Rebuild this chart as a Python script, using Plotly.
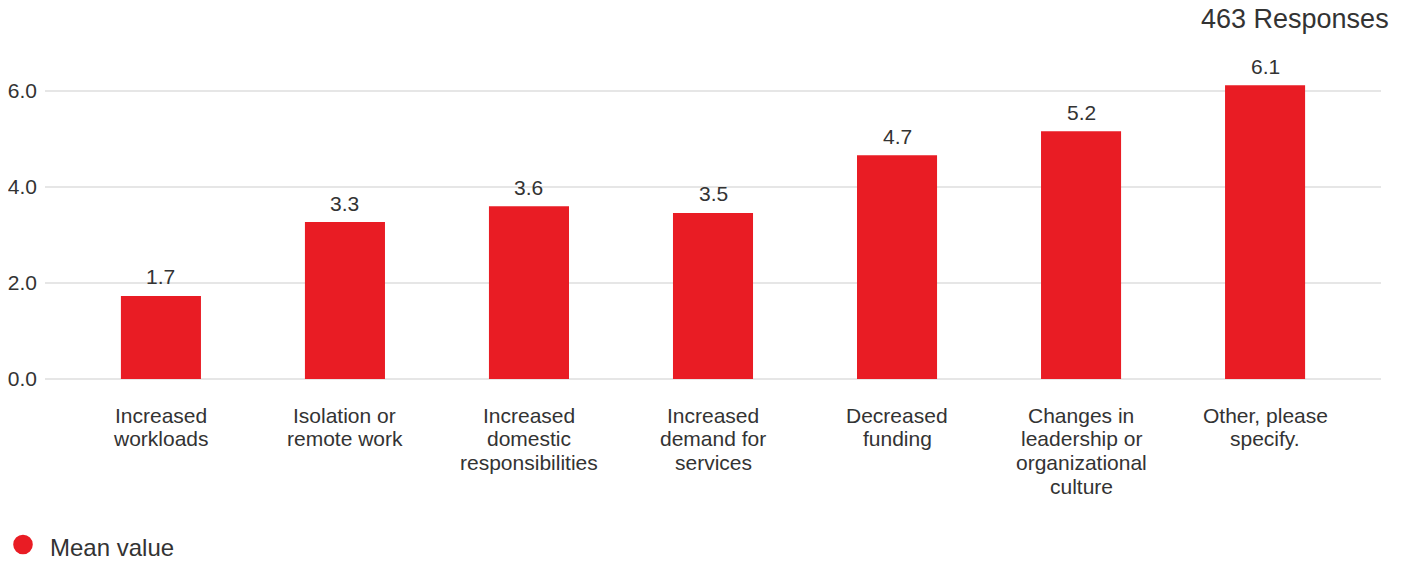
import plotly.graph_objects as go

categories = [
    "Increased<br>workloads",
    "Isolation or<br>remote work",
    "Increased<br>domestic<br>responsibilities",
    "Increased<br>demand for<br>services",
    "Decreased<br>funding",
    "Changes in<br>leadership or<br>organizational<br>culture",
    "Other, please<br>specify.",
]
mean_values = [1.73, 3.27, 3.60, 3.46, 4.66, 5.16, 6.12]
y_ticks = [0, 2, 4, 6]
responses_label = "463 Responses"
series_name = "Mean value"

RED = "#E91C24"
TEXT = "#333333"
FONT = "Liberation Sans, Arial, sans-serif"

# page body adds an 8px offset; layout below is in figure coordinates
OFF = 8
W, H = 1408, 561
ML = 45 - OFF
PLOT_R = 1381 - OFF
ZERO_Y = 379 - OFF
MT = 77 - OFF
MR = W - PLOT_R
MB = H - ZERO_Y
PW, PH = W - ML - MR, H - MT - MB
PX_PER_UNIT = 48

xs = list(range(len(categories)))

fig = go.Figure()
fig.add_trace(go.Bar(
    x=xs,
    y=mean_values,
    width=0.435,
    name=series_name,
    marker=dict(color=RED, line=dict(width=0)),
    showlegend=False,
    hoverinfo="skip",
))

for xi, v in zip(xs, mean_values):
    fig.add_annotation(
        x=xi, y=v, xref="x", yref="y", text=f"{v:.1f}",
        showarrow=False, yanchor="middle", yshift=19,
        font=dict(size=21, color=TEXT, family=FONT),
    )

# category labels, one annotation per line for tight line spacing
for xi, label in zip(xs, categories):
    for j, line in enumerate(label.split("<br>")):
        fig.add_annotation(
            x=xi, y=0, xref="x", yref="y", text=line,
            showarrow=False, yanchor="middle", xanchor="center",
            yshift=-(36 + 23.7 * j),
            font=dict(size=21, color=TEXT, family=FONT),
        )

# legend: circle swatch + label (paper coords from pixel positions)
def px_x(p):
    return (p - ML) / PW

def px_y(p):
    return (H - MB - p) / PH

cx, cy, r = 23 - OFF, 544.5 - OFF, 9.8
fig.add_shape(
    type="circle", xref="paper", yref="paper",
    x0=px_x(cx - r), x1=px_x(cx + r), y0=px_y(cy + r), y1=px_y(cy - r),
    fillcolor=RED, line=dict(width=0),
)
fig.add_annotation(
    text=series_name, xref="paper", yref="paper",
    x=px_x(48 - OFF), xanchor="left", y=px_y(547 - OFF), yanchor="middle",
    showarrow=False, font=dict(size=24, color=TEXT, family=FONT),
)

fig.update_layout(
    width=W, height=H,
    margin=dict(l=ML, r=MR, t=MT, b=MB, autoexpand=False),
    paper_bgcolor="white", plot_bgcolor="white",
    font=dict(family=FONT, size=21, color=TEXT),
    showlegend=False,
    xaxis=dict(
        range=[-0.63, 6.63],
        showticklabels=False,
        showgrid=False, zeroline=False, showline=False,
        ticks="", automargin=False,
        fixedrange=True,
    ),
    yaxis=dict(
        range=[0, (ZERO_Y - MT) / PX_PER_UNIT],
        tickmode="array",
        tickvals=y_ticks,
        tickformat=".1f",
        showgrid=True, gridcolor="#E6E6E6", gridwidth=2,
        zeroline=True, zerolinecolor="#E6E6E6", zerolinewidth=2,
        showline=False, ticks="", automargin=False,
        ticklabelstandoff=7,
        tickfont=dict(size=21, color=TEXT, family=FONT),
        fixedrange=True,
    ),
)
fig.add_annotation(
    text=responses_label, xref="paper", yref="paper",
    x=px_x(1390 - OFF), xanchor="right",
    y=px_y(19 - OFF), yanchor="middle", borderpad=0,
    showarrow=False, font=dict(size=27, color=TEXT, family=FONT),
)

fig.write_html("out.html")
